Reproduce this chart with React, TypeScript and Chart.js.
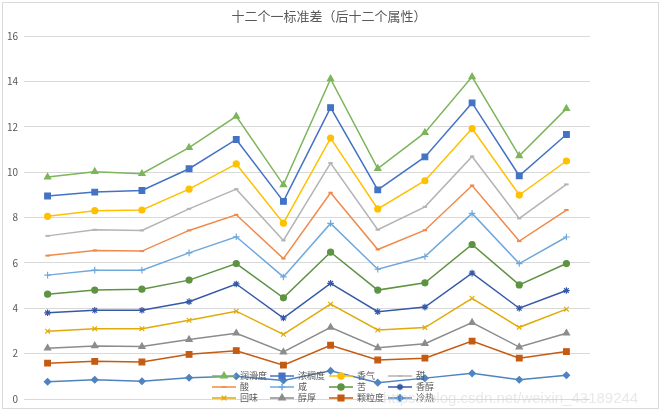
import React, { useEffect, useRef } from "react";
import { Chart, registerables } from "chart.js";
import { drawPoint } from "chart.js/helpers";

Chart.register(...registerables);

const categories = ["1", "2", "3", "4", "5", "6", "7", "8", "9", "10", "11", "12"];
const yTicks = [0, 2, 4, 6, 8, 10, 12, 14, 16];

// cumulative (stacked) values as shown, bottom series first
const s01 = [0.76, 0.85, 0.78, 0.94, 1.0, 0.82, 1.24, 0.72, 0.92, 1.13, 0.85, 1.05];
const s02 = [1.58, 1.66, 1.63, 1.97, 2.13, 1.49, 2.37, 1.72, 1.8, 2.55, 1.8, 2.09];
const s03 = [2.24, 2.34, 2.31, 2.62, 2.9, 2.07, 3.16, 2.26, 2.44, 3.37, 2.29, 2.9];
const s04 = [2.99, 3.1, 3.1, 3.47, 3.87, 2.85, 4.18, 3.04, 3.15, 4.44, 3.16, 3.96];
const s05 = [3.8, 3.91, 3.91, 4.29, 5.07, 3.57, 5.1, 3.85, 4.05, 5.55, 4.0, 4.78];
const s06 = [4.62, 4.8, 4.84, 5.24, 5.97, 4.46, 6.47, 4.8, 5.12, 6.81, 5.03, 5.97];
const s07 = [5.46, 5.68, 5.68, 6.44, 7.15, 5.38, 7.74, 5.72, 6.28, 8.18, 5.97, 7.14];
const s08 = [6.32, 6.55, 6.52, 7.43, 8.12, 6.19, 9.09, 6.59, 7.44, 9.41, 6.96, 8.33];
const s09 = [7.19, 7.46, 7.43, 8.38, 9.25, 6.99, 10.4, 7.46, 8.47, 10.69, 7.96, 9.46];
const s10 = [8.05, 8.3, 8.33, 9.25, 10.36, 7.75, 11.5, 8.38, 9.62, 11.92, 8.99, 10.49];
const s11 = [8.95, 9.12, 9.19, 10.15, 11.44, 8.71, 12.84, 9.22, 10.67, 13.05, 9.84, 11.66];
const s12 = [9.78, 10.02, 9.93, 11.08, 12.46, 9.44, 14.11, 10.16, 11.74, 14.2, 10.72, 12.8];

const seriesNames = ["冷热", "颗粒度", "醇厚", "回味", "香醇", "苦", "咸", "酸", "甜", "香气", "浓稠度", "润滑度"];
const seriesValues = [s01, s02, s03, s04, s05, s06, s07, s08, s09, s10, s11, s12];
const seriesColors = [
  "#4F83BF", "#C55A11", "#8C8C8C", "#E0AA08", "#3559A8", "#5E9342",
  "#6FA8DC", "#F08A4B", "#B4B4B4", "#FFC000", "#4472C4", "#7DB55A",
];
const seriesMarkers = ["rectRot", "rect", "triangle", "crossRot", "star", "circle", "cross", "line", "line", "circle", "rect", "triangle"];
const markerRadius = [3.2, 4, 3.6, 3.3, 3.3, 3, 3.3, 2.2, 2.2, 3, 4, 3.6];

const TITLE = "十二个一标准差（后十二个属性）";
const WATERMARK = "https://blog.csdn.net/weixin_43189244";
const FONT = '"Microsoft YaHei", "Noto Sans CJK SC", "Noto Sans", sans-serif';

const decor = {
  id: "decor",
  beforeDraw(chart: any) {
    const ctx = chart.ctx;
    ctx.save();
    ctx.fillStyle = "#ffffff";
    ctx.fillRect(0, 0, chart.width, chart.height);
    ctx.strokeStyle = "#d9d9d9";
    ctx.lineWidth = 1;
    ctx.strokeRect(2.5, 2.5, 656, 406);
    ctx.restore();
  },
  afterDraw(chart: any) {
    const ctx = chart.ctx;
    ctx.save();
    // title
    ctx.fillStyle = "#595959";
    ctx.font = "13px " + FONT;
    ctx.textAlign = "center";
    ctx.textBaseline = "middle";
    ctx.fillText(TITLE, 329, 16);

    // legend (4 columns, top series first)
    const colX = [212, 270, 329, 388];
    const rowY = [376, 387, 398];
    const n = seriesNames.length;
    for (let k = 0; k < n; k++) {
      const i = n - 1 - k;
      const x = colX[k % 4];
      const y = rowY[Math.floor(k / 4)];
      const color = seriesColors[i];
      ctx.strokeStyle = color;
      ctx.fillStyle = color;
      ctx.lineWidth = 1.5;
      ctx.beginPath();
      ctx.moveTo(x, y);
      ctx.lineTo(x + 24, y);
      ctx.stroke();
      drawPoint(ctx, { pointStyle: seriesMarkers[i], radius: markerRadius[i], rotation: 0, borderWidth: seriesMarkers[i] === "line" ? 2 : 1.2 } as any, x + 12, y);
      ctx.fillStyle = "#595959";
      ctx.font = "9px " + FONT;
      ctx.textAlign = "left";
      ctx.textBaseline = "middle";
      ctx.fillText(seriesNames[i], x + 28, y);
    }

    // watermark
    ctx.fillStyle = "rgba(205,205,205,0.45)";
    ctx.font = '15px Arial, "Liberation Sans", sans-serif';
    ctx.textAlign = "left";
    ctx.textBaseline = "middle";
    ctx.fillText(WATERMARK, 383, 399);
    ctx.restore();
  },
};

export default function App() {
  const ref = useRef<HTMLCanvasElement>(null);
  useEffect(() => {
    if (!ref.current) return;
    const chart = new Chart(ref.current, {
      type: "line",
      data: {
        labels: categories,
        datasets: seriesValues.map((vals, i) => ({
          label: seriesNames[i],
          data: vals,
          borderColor: seriesColors[i],
          backgroundColor: seriesColors[i],
          pointBackgroundColor: seriesColors[i],
          pointBorderColor: seriesColors[i],
          pointStyle: seriesMarkers[i] as any,
          pointRadius: markerRadius[i],
          pointBorderWidth: seriesMarkers[i] === "line" ? 2 : 1.2,
          borderWidth: 1.5,
          tension: 0,
          fill: false,
        })),
      },
      options: {
        animation: false,
        responsive: false,
        devicePixelRatio: 1,
        layout: { padding: { left: 0, top: 36, right: 73, bottom: 17 } },
        plugins: {
          legend: { display: false },
          title: { display: false },
          tooltip: { enabled: false },
        },
        scales: {
          x: {
            display: false,
            offset: true,
          },
          y: {
            min: 0,
            max: 16,
            afterBuildTicks(scale: any) {
              scale.ticks = yTicks.map((v) => ({ value: v }));
            },
            afterFit(scale: any) {
              scale.width = 24;
            },
            border: { display: false },
            grid: { color: "#d9d9d9", lineWidth: 1, drawTicks: false },
            ticks: {
              color: "#595959",
              font: { size: 10, family: FONT },
              padding: 6,
            },
          },
        },
      },
      plugins: [decor],
    });
    return () => chart.destroy();
  }, []);
  return (
    <div style={{ position: "fixed", left: 0, top: 0, width: 663, height: 416 }}>
      <canvas ref={ref} width={663} height={416} style={{ width: 663, height: 416, display: "block" }} />
    </div>
  );
}
